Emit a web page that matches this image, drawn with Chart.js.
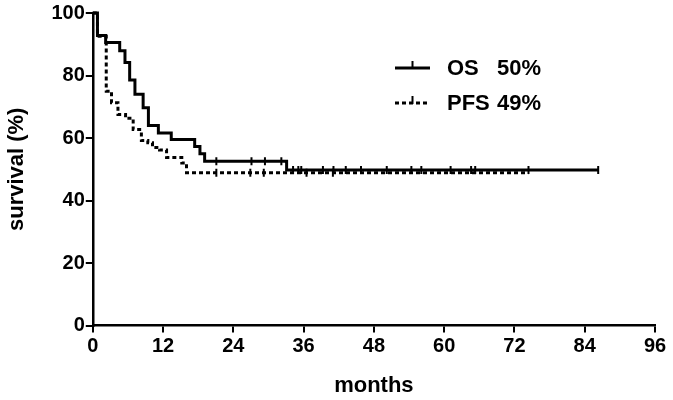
<!DOCTYPE html>
<html>
<head>
<meta charset="utf-8">
<script src="https://cdn.jsdelivr.net/npm/chart.js@4/dist/chart.umd.min.js"></script>
<style>
  html, body { margin: 0; padding: 0; background: #fff; }
  #wrap { width: 673px; height: 400px; }
</style>
</head>
<body>
<div id="wrap"><canvas id="km"></canvas></div>
<script>
// Kaplan-Meier steps (months, survival %)
const osTime = [0, 0.8, 2.2, 4.6, 5.5, 6.3, 7.2, 8.6, 9.5, 11.2, 13.4, 17.4, 18.3, 19.1, 33.1, 86.3];
const osSurv = [100, 92.8, 90.6, 87.9, 84.2, 78.6, 74.0, 69.7, 64.0, 61.6, 59.5, 57.3, 55.0, 52.6, 49.8, 49.8];

const pfsTime = [0, 0.8, 2.3, 3.2, 4.3, 5.6, 6.9, 8.3, 9.4, 10.2, 11.4, 12.6, 15.2, 16.0, 74.4];
const pfsSurv = [100, 92.6, 75.0, 71.3, 67.5, 66.3, 62.7, 59.2, 58.5, 57.0, 56.2, 53.8, 52.0, 48.9, 48.9];

// censored patients (tick marks)
const osCensor = [21.1, 27.1, 29.4, 32.2, 34.2, 35.1, 35.6, 39.3, 41.1, 43.2, 45.8, 50.2, 54.4, 56.1, 61.1, 64.6, 65.3, 74.4, 86.3];
const pfsCensor = [21.1, 26.9, 29.2, 36.5, 41.0];

const xTicks = [0, 12, 24, 36, 48, 60, 72, 84, 96];
const yTicks = [0, 20, 40, 60, 80, 100];

const legendRows = [
    { name: 'OS', value: '50%', dash: [] },
    { name: 'PFS', value: '49%', dash: [4, 3] }
];

const FONT = '"Liberation Sans", Arial, sans-serif';

// survival value of a step curve at time t
function survAt(times, surv, t) {
    let v = surv[0];
    for (let i = 0; i < times.length; i++) {
        if (times[i] <= t) v = surv[i];
    }
    return v;
}

function toPoints(times, surv) {
    return times.map((t, i) => ({ x: t, y: surv[i] }));
}

function censorPoints(list, times, surv) {
    return list.map(t => ({ x: t, y: survAt(times, surv, t) }));
}

// legend drawn by hand: line sample with censor tick, then bold text
const kmLegend = {
    id: 'kmLegend',
    afterDatasetsDraw(chart) {
        const ctx = chart.ctx;
        const x0 = 395, x1 = 430, y0 = 68, gap = 35;
        ctx.save();
        legendRows.forEach((row, i) => {
            const y = y0 + i * gap;
            ctx.strokeStyle = '#000';
            ctx.lineWidth = 3;
            ctx.setLineDash(row.dash);
            ctx.beginPath();
            ctx.moveTo(x0, y);
            ctx.lineTo(x1, y);
            ctx.stroke();
            ctx.setLineDash([]);
            ctx.lineWidth = 2;
            ctx.beginPath();
            ctx.moveTo((x0 + x1) / 2, y - 7);
            ctx.lineTo((x0 + x1) / 2, y + 1);
            ctx.stroke();

            ctx.fillStyle = '#000';
            ctx.font = 'bold 22px ' + FONT;
            ctx.textBaseline = 'middle';
            ctx.textAlign = 'left';
            ctx.fillText(row.name, 447, y + 1);
            ctx.fillText(row.value, 497, y + 1);
        });
        ctx.restore();
    }
};

const ctx = document.getElementById('km').getContext('2d');

const grafico = new Chart(ctx, {
    type: 'line',
    data: {
        datasets: [
            {
                label: 'PFS',
                data: toPoints(pfsTime, pfsSurv),
                stepped: true,
                borderColor: '#000',
                borderWidth: 3,
                borderDash: [4, 3],
                pointRadius: 0,
                fill: false,
                clip: 8
            },
            {
                label: 'OS',
                data: toPoints(osTime, osSurv),
                stepped: true,
                borderColor: '#000',
                borderWidth: 3,
                pointRadius: 0,
                fill: false,
                clip: 8
            },
            {
                label: 'PFS censored',
                data: censorPoints(pfsCensor, pfsTime, pfsSurv),
                showLine: false,
                pointStyle: 'line',
                rotation: 90,
                pointRadius: 4,
                borderColor: '#000',
                pointBorderWidth: 2,
                clip: 8
            },
            {
                label: 'OS censored',
                data: censorPoints(osCensor, osTime, osSurv),
                showLine: false,
                pointStyle: 'line',
                rotation: 90,
                pointRadius: 4,
                borderColor: '#000',
                pointBorderWidth: 2,
                clip: 8
            }
        ]
    },
    options: {
        responsive: true,
        maintainAspectRatio: false,
        animation: false,
        layout: { padding: { left: 4, right: 18, top: 8, bottom: 1 } },
        plugins: {
            legend: { display: false },
            tooltip: { enabled: false }
        },
        scales: {
            x: {
                type: 'linear',
                min: 0,
                max: 96,
                afterBuildTicks: axis => { axis.ticks = xTicks.map(v => ({ value: v })); },
                grid: { drawOnChartArea: false, drawTicks: true, tickLength: 7, color: '#000', lineWidth: 2 },
                border: { display: true, color: '#000', width: 2.5 },
                ticks: { color: '#000', font: { family: FONT, size: 20, weight: 'bold' }, padding: 2, maxRotation: 0 },
                title: { display: true, text: 'months', color: '#000', font: { family: FONT, size: 22, weight: 'bold' }, padding: { top: 12, bottom: 0 } }
            },
            y: {
                min: 0,
                max: 100,
                afterBuildTicks: axis => { axis.ticks = yTicks.map(v => ({ value: v })); },
                grid: { drawOnChartArea: false, drawTicks: true, tickLength: 7, color: '#000', lineWidth: 2 },
                border: { display: true, color: '#000', width: 2.5 },
                ticks: { color: '#000', font: { family: FONT, size: 20, weight: 'bold' }, padding: 1 },
                title: { display: true, text: 'survival (%)', color: '#000', font: { family: FONT, size: 22, weight: 'bold' }, padding: { top: 0, bottom: 20 } }
            }
        }
    },
    plugins: [kmLegend]
});
</script>
</body>
</html>
